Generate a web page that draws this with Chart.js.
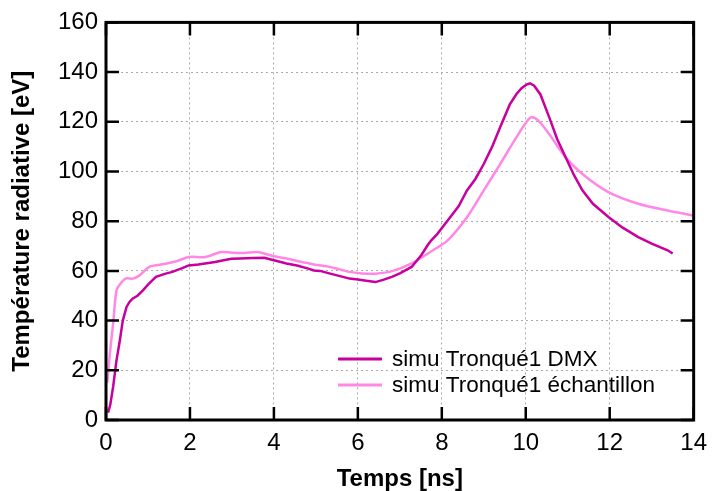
<!DOCTYPE html>
<html>
<head>
<meta charset="utf-8">
<script src="https://cdn.jsdelivr.net/npm/chart.js@4.4.1/dist/chart.umd.min.js"></script>
<style>
  html, body { margin: 0; padding: 0; background: #fff; }
  #wrap { width: 716px; height: 491px; }
</style>
</head>
<body>
<div id="wrap"><canvas id="chart" width="716" height="491"></canvas></div>
<script>
// =================== DATA ===================
const xTicks = [0, 2, 4, 6, 8, 10, 12, 14];
const yTicks = [0, 20, 40, 60, 80, 100, 120, 140, 160];

const dmxLabel = "simu Tronqué1 DMX";
const dmxTime = [0.05, 0.1, 0.17, 0.25, 0.33, 0.4, 0.49, 0.56, 0.64, 0.75, 0.88, 1.0, 1.19, 1.4, 1.58, 1.8, 1.97, 2.2, 2.6, 2.8, 2.99, 3.2, 3.5, 3.77, 4.0, 4.3, 4.55, 4.8, 4.95, 5.1, 5.34, 5.6, 5.8, 6.0, 6.2, 6.42, 6.6, 6.81, 7.0, 7.28, 7.51, 7.67, 7.75, 7.9, 8.14, 8.4, 8.6, 8.8, 9.0, 9.2, 9.39, 9.62, 9.78, 9.9, 10.02, 10.1, 10.2, 10.35, 10.56, 10.75, 10.95, 11.15, 11.35, 11.6, 11.97, 12.3, 12.68, 13.0, 13.38, 13.5];
const dmxTemp = [3, 6, 13.4, 24, 32, 40, 45.5, 47.5, 48.9, 50, 52.2, 54.5, 57.6, 58.8, 59.6, 61, 62.2, 62.6, 63.6, 64.3, 64.9, 65, 65.2, 65.3, 64.3, 63, 62.2, 61, 60.2, 60, 58.9, 57.8, 56.9, 56.5, 56, 55.5, 56.4, 57.6, 59, 61.6, 66.3, 70.5, 72.3, 75, 80.3, 86, 92.4, 97, 103, 110, 117.8, 127, 131.2, 133.5, 135, 135.5, 134.5, 131, 121.8, 113, 105.7, 98.5, 92.4, 87, 81.7, 77.5, 73.6, 71, 68.3, 67];

const echLabel = "simu Tronqué1 échantillon";
const echTime = [0.03, 0.05, 0.1, 0.17, 0.25, 0.33, 0.41, 0.5, 0.64, 0.8, 1.03, 1.2, 1.42, 1.7, 1.97, 2.36, 2.75, 3.0, 3.3, 3.6, 4.0, 4.3, 4.55, 4.95, 5.34, 5.8, 6.1, 6.42, 6.8, 7.28, 7.79, 8.14, 8.6, 9.0, 9.39, 9.78, 10.0, 10.13, 10.3, 10.56, 10.95, 11.35, 11.97, 12.68, 13.38, 14.0];
const echTemp = [15, 18.7, 28, 38.8, 52.2, 54.5, 56.2, 57, 56.9, 58.2, 61.6, 62.3, 62.9, 64, 65.6, 65.6, 67.6, 67.3, 67.2, 67.6, 65.9, 65, 64, 62.6, 61.6, 59.6, 59, 58.9, 59.8, 63, 68.3, 72.3, 81.6, 92.4, 103, 113.8, 119.5, 121.8, 120.5, 115, 105.7, 99, 91.7, 87, 84.3, 82.3];

const DARK = "#c8009e";
const LIGHT = "#ff88e6";
const FONT = "'Liberation Sans', Arial, sans-serif";

function toPoints(xs, ys) {
  return xs.map((x, i) => ({ x: x, y: ys[i] }));
}

// =================== PLUGINS ===================
// inward ticks on all four sides + thick frame
const frameTicks = {
  id: "frameTicks",
  afterDatasetsDraw(chart) {
    const { ctx, chartArea: a, scales } = chart;
    ctx.save();
    ctx.strokeStyle = "#000";
    ctx.lineWidth = 2.5;
    const len = 13;
    ctx.beginPath();
    xTicks.forEach(v => {
      const px = scales.x.getPixelForValue(v);
      ctx.moveTo(px, a.bottom); ctx.lineTo(px, a.bottom - len);
      ctx.moveTo(px, a.top); ctx.lineTo(px, a.top + len);
    });
    yTicks.forEach(v => {
      const py = scales.y.getPixelForValue(v);
      ctx.moveTo(a.left, py); ctx.lineTo(a.left + len, py);
      ctx.moveTo(a.right, py); ctx.lineTo(a.right - len, py);
    });
    ctx.stroke();
    ctx.lineWidth = 3;
    ctx.strokeRect(a.left, a.top, a.right - a.left, a.bottom - a.top);
    ctx.restore();
  }
};

// legend inside the plot, lower right
const innerLegend = {
  id: "innerLegend",
  afterDatasetsDraw(chart) {
    const { ctx, chartArea: a } = chart;
    ctx.save();
    ctx.font = "22.5px " + FONT;
    ctx.textBaseline = "middle";
    const x0 = a.left + 232, x1 = a.left + 276;
    chart.data.datasets.forEach((ds, i) => {
      const y = a.bottom - 61 + i * 26;
      ctx.strokeStyle = ds.borderColor;
      ctx.lineWidth = 3;
      ctx.beginPath();
      ctx.moveTo(x0, y); ctx.lineTo(x1, y);
      ctx.stroke();
      ctx.fillStyle = "#000";
      ctx.fillText(ds.label, x1 + 10, y + 1);
    });
    ctx.restore();
  }
};

// =================== CHART ===================
new Chart(document.getElementById("chart"), {
  type: "scatter",
  data: {
    datasets: [
      { label: dmxLabel, data: toPoints(dmxTime, dmxTemp), borderColor: DARK, backgroundColor: DARK, showLine: true, borderWidth: 2.5, pointRadius: 0, tension: 0, order: 1 },
      { label: echLabel, data: toPoints(echTime, echTemp), borderColor: LIGHT, backgroundColor: LIGHT, showLine: true, borderWidth: 2.5, pointRadius: 0, tension: 0.3, order: 2 }
    ]
  },
  options: {
    responsive: false,
    animation: false,
    layout: { padding: { top: 22, right: 13, left: 0, bottom: 0 } },
    plugins: {
      legend: { display: false },
      tooltip: { enabled: false }
    },
    scales: {
      x: {
        type: "linear", min: 0, max: 14,
        afterBuildTicks: s => { s.ticks = xTicks.map(v => ({ value: v })); },
        afterFit: s => { s.height = 71; },
        ticks: { color: "#000", font: { size: 24, family: FONT }, padding: 9 },
        grid: { color: "#aaa", lineWidth: 1, drawTicks: false },
        border: { display: false, dash: [2, 3] },
        title: { display: true, text: "Temps [ns]", color: "#000", font: { size: 24, weight: "bold", family: FONT, lineHeight: 1 }, padding: { top: 0, bottom: 0 } }
      },
      y: {
        type: "linear", min: 0, max: 160,
        afterBuildTicks: s => { s.ticks = yTicks.map(v => ({ value: v })); },
        afterFit: s => { s.width = 106; },
        ticks: { color: "#000", font: { size: 24, family: FONT }, padding: 8 },
        grid: { color: "#aaa", lineWidth: 1, drawTicks: false },
        border: { display: false, dash: [2, 3] },
        title: { display: true, text: "Température radiative [eV]", color: "#000", font: { size: 24, weight: "bold", family: FONT, lineHeight: 1 }, padding: { top: 10, bottom: 0 } }
      }
    }
  },
  plugins: [innerLegend, frameTicks]
});
</script>
</body>
</html>
